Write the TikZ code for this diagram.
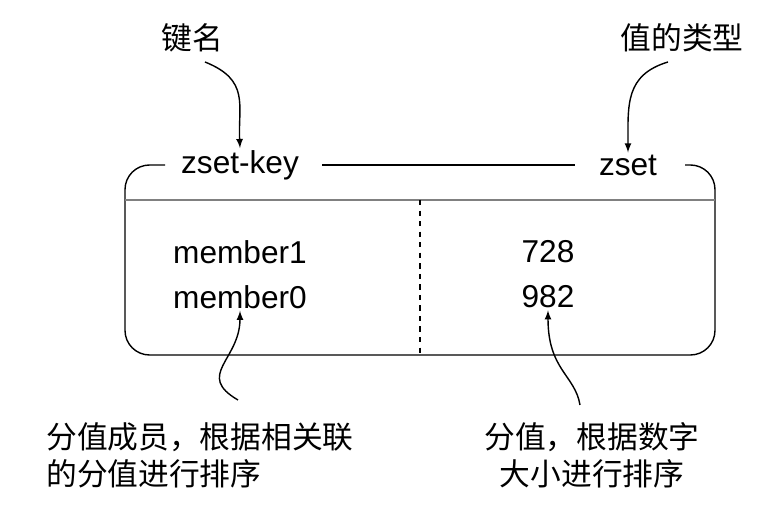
\documentclass[tikz,border=0pt]{standalone}
\usepackage{fontspec}
\setmainfont{Liberation Sans}
\newfontfamily\cjk{Noto Sans CJK SC}
\usetikzlibrary{positioning}
\tikzset{ txt/.style = { inner sep = 1pt % box text
        , font = \fontsize{18}{21}\selectfont
        }
        , note/.style = { align = center % callout
        , inner sep = 1pt
        , font = \cjk\fontsize{17.5}{21}\selectfont
        }
        , call/.style = { -latex, thick }
        }
\begin{document}
\begin{tikzpicture}[x=0.02cm, y=-0.02cm]
        \useasboundingbox (0,0) rectangle (775,509);
        % frame
        \draw [thick, rounded corners=14pt] (165,165) -- (125,165) -- (125,355) -- (715,355) -- (715,165) -- (685,165);
        \draw [thick] (322,165) -- (575,165);
        \draw [gray, very thick] (125,200) -- (715,200);
        \draw [thick, dashed] (420,200) -- (420,355);
        % texts
        \node [txt] (key)  at (240,165) {zset-key};
        \node [txt] (type) at (628,165) {zset};
        \node [txt] (m1) at (240,252) {member1};
        \node [txt] (m0) at (240,297) {member0};
        \node [txt] (s1) at (548,252) {728};
        \node [txt] (s0) at (548,297) {982};
        % callouts
        \node [note] (kname) at (192,38) {键名};
        \node [note] (tname) at (682,38) {值的类型};
        \node [note, align=left] (mnote) at (200,455) {分值成员，根据相关联\\的分值进行排序};
        \node [note] (snote) at (592,455) {分值，根据数字\\大小进行排序};
        \coordinate (ka) at (205,62);
        \coordinate (ta) at (668,62);
        \coordinate (ma) at (238,400);
        \coordinate (sa) at (580,405);
        \draw [call] (ka) .. controls (250,80) and (238,105) .. (key.north);
        \draw [call] (ta) .. controls (625,75) and (628,105) .. (type.north);
        \draw [call] (ma) .. controls (195,375) and (240,360) .. (m0.south);
        \draw [call] (sa) .. controls (575,375) and (548,370) .. (s0.south);
\end{tikzpicture}
\end{document}
